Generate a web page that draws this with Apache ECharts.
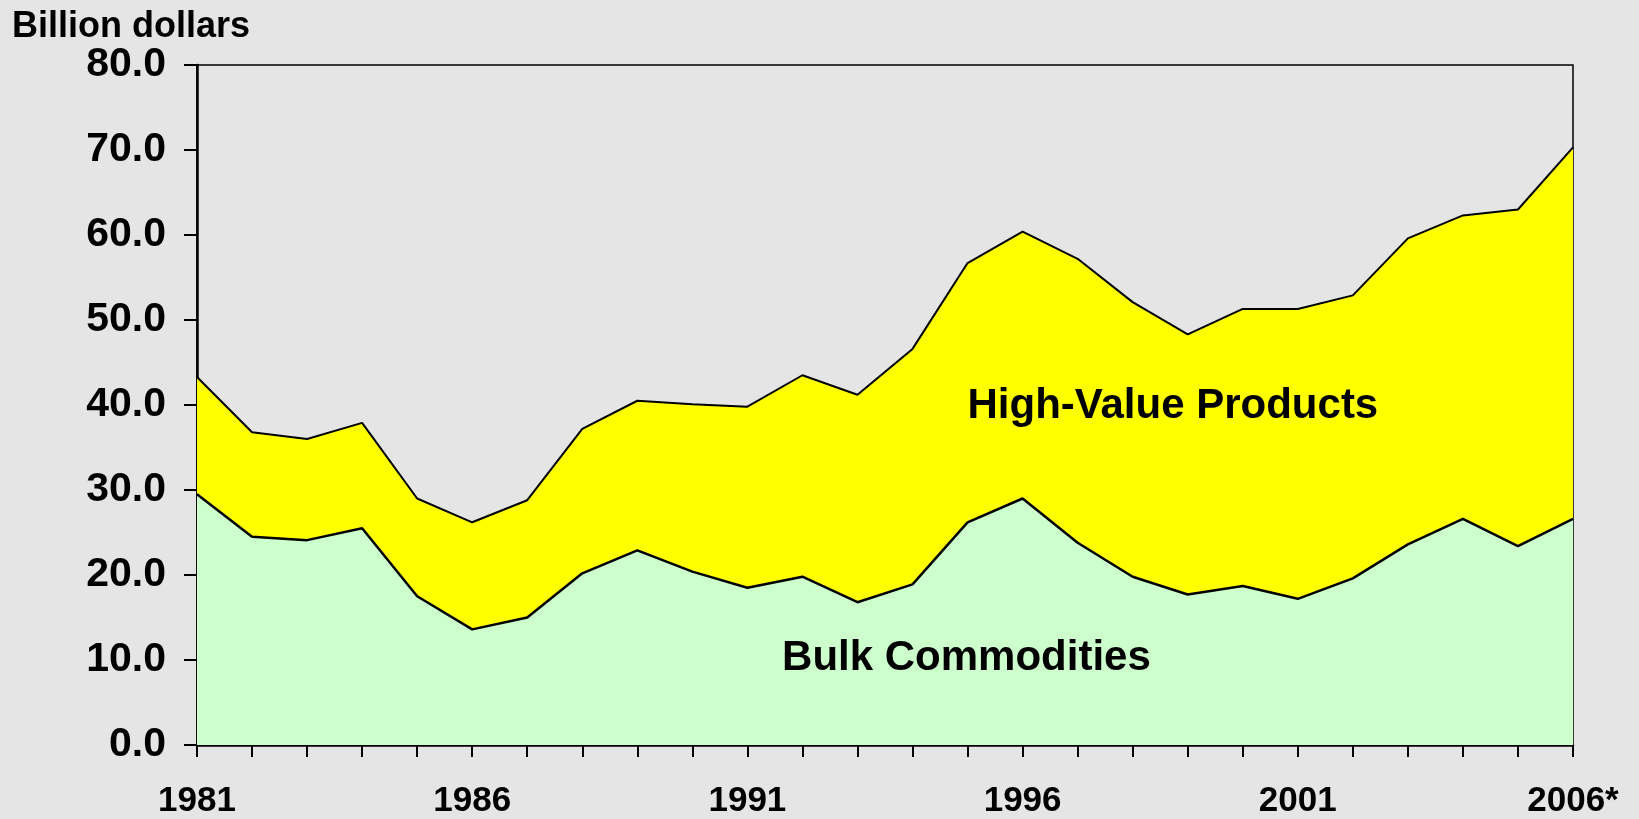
<!DOCTYPE html>
<html>
<head>
<meta charset="utf-8">
<script src="https://cdn.jsdelivr.net/npm/echarts@6/dist/echarts.min.js"></script>
<style>
    html, body { margin: 0; padding: 0; background: #e5e5e5; }
    #chart { width: 1639px; height: 819px; }
</style>
</head>
<body>
<div id="chart"></div>
<script>
const years = ["1981", "1982", "1983", "1984", "1985", "1986", "1987", "1988", "1989", "1990",
    "1991", "1992", "1993", "1994", "1995", "1996", "1997", "1998", "1999", "2000",
    "2001", "2002", "2003", "2004", "2005", "2006*"];

// billion dollars, stacked: bulk at the bottom, high-value on top
const bulkCommodities = [29.5, 24.5, 24.1, 25.5, 17.5, 13.6, 15.0, 20.2, 22.9, 20.4,
    18.5, 19.8, 16.8, 18.9, 26.2, 29.0, 23.8, 19.8, 17.7, 18.7,
    17.2, 19.6, 23.6, 26.6, 23.4, 26.6];
const highValueProducts = [13.8, 12.3, 11.9, 12.4, 11.5, 12.6, 13.8, 17.0, 17.6, 19.7,
    21.3, 23.7, 24.4, 27.7, 30.5, 31.4, 33.4, 32.3, 30.6, 32.6,
    34.1, 33.3, 36.0, 35.7, 39.6, 43.7];

// area labels, placed in data coordinates [category index, value]
const areaLabels = [
    { text: "High-Value Products", at: [17.73, 39.85] },
    { text: "Bulk Commodities", at: [13.98, 10.15] }
];

const chart = echarts.init(document.getElementById("chart"));
const font = "'Liberation Sans', Arial, Helvetica, sans-serif";

chart.setOption({
    animation: false,
    backgroundColor: "#e5e5e5",
    grid: { left: 197, right: 66, top: 65, bottom: 71, show: true, borderColor: "#000", borderWidth: 1.5 },
    xAxis: {
        type: "category",
        data: years,
        boundaryGap: false,
        axisLine: { lineStyle: { color: "#000", width: 2.5 } },
        axisTick: { show: true, interval: 0, length: 12, lineStyle: { color: "#000", width: 2 } },
        axisLabel: { interval: 4, margin: 39, color: "#000", fontSize: 35, fontWeight: "bold", fontFamily: font },
        splitLine: { show: false }
    },
    yAxis: {
        type: "value",
        min: 0,
        max: 80,
        interval: 10,
        name: "Billion dollars",
        nameLocation: "end",
        nameGap: 16,
        nameTextStyle: { color: "#000", fontSize: 36, fontWeight: "bold", fontFamily: font, align: "left", padding: [0, 0, 0, -185] },
        axisLine: { show: true, lineStyle: { color: "#000", width: 2.5 } },
        axisTick: { show: true, length: 13, lineStyle: { color: "#000", width: 2 } },
        axisLabel: { margin: 31, color: "#000", fontSize: 41, fontWeight: "bold", fontFamily: font, formatter: v => v.toFixed(1) },
        splitLine: { show: false }
    },
    series: [
        {
            name: "Bulk Commodities",
            type: "line",
            stack: "total",
            data: bulkCommodities,
            symbol: "none",
            lineStyle: { color: "#000", width: 2.5 },
            areaStyle: { color: "#ccffcc", opacity: 1 },
            z: 3
        },
        {
            name: "High-Value Products",
            type: "line",
            stack: "total",
            data: highValueProducts,
            symbol: "none",
            lineStyle: { color: "#000", width: 2 },
            areaStyle: { color: "#ffff00", opacity: 1 },
            z: 2
        }
    ]
});

// category axis snaps to whole indices, so interpolate between neighbours
function toPixel(at) {
    const i0 = Math.floor(at[0]);
    const a = chart.convertToPixel({ gridIndex: 0 }, [i0, at[1]]);
    const b = chart.convertToPixel({ gridIndex: 0 }, [i0 + 1, at[1]]);
    const f = at[0] - i0;
    return [a[0] + (b[0] - a[0]) * f, a[1]];
}

chart.setOption({
    graphic: areaLabels.map(item => {
        const p = toPixel(item.at);
        return {
            type: "text",
            x: p[0],
            y: p[1],
            z: 10,
            style: {
                text: item.text,
                fill: "#000",
                font: "bold 42px " + font,
                align: "center",
                verticalAlign: "middle"
            }
        };
    })
});
</script>
</body>
</html>
